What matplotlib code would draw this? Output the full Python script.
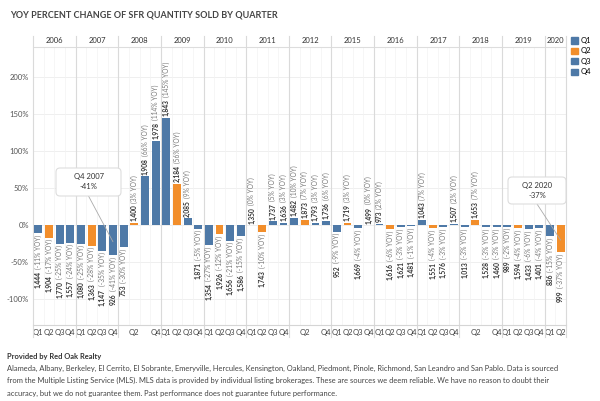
import matplotlib
matplotlib.use('Agg')
import matplotlib.pyplot as plt
from matplotlib.patches import Patch, FancyBboxPatch
from matplotlib.transforms import blended_transform_factory, IdentityTransform

# data
years = ['2006', '2007', '2008', '2009', '2010', '2011', '2012',
         '2015', '2016', '2017', '2018', '2019', '2020']
n_quarters = [4, 4, 4, 4, 4, 4, 4, 4, 4, 4, 4, 4, 2]
quarters = ['Q1', 'Q2', 'Q3', 'Q4'] * 12 + ['Q1', 'Q2']
q_labels = ['Q1', 'Q2', 'Q3', 'Q4', 'Q1', 'Q2', 'Q3', 'Q4', '', 'Q2', '', 'Q4',
            'Q1', 'Q2', 'Q3', 'Q4', 'Q1', 'Q2', 'Q3', 'Q4', 'Q1', 'Q2', 'Q3', 'Q4',
            '', 'Q2', '', 'Q4', 'Q1', 'Q2', 'Q3', 'Q4', 'Q1', 'Q2', 'Q3', 'Q4',
            'Q1', 'Q2', 'Q3', 'Q4', '', 'Q2', '', 'Q4', 'Q1', 'Q2', 'Q3', 'Q4',
            'Q1', 'Q2']
sold = [1444, 1904, 1770, 1557, 1080, 1363, 1147, 926, 753, 1400, 1908, 1978,
        1843, 2184, 2085, 1871, 1354, 1926, 1656, 1586, 1350, 1743, 1737, 1636,
        1482, 1873, 1793, 1736, 952, 1719, 1669, 1499, 973, 1616, 1621, 1481,
        1043, 1551, 1576, 1507, 1013, 1653, 1528, 1460, 989, 1594, 1433, 1401,
        836, 999]
yoy = [-11, -17, -25, -24, -25, -28, -35, -41, -30, 3, 66, 114,
       145, 56, 9, -5, -27, -12, -21, -15, 0, -10, 5, 3,
       10, 7, 3, 6, -9, 3, -4, 0, 2, -6, -3, -1,
       7, -4, -3, 2, -3, 7, -3, -3, -2, -4, -6, -4,
       -15, -37]

blue = '#4e79a7'
orange = '#f28e2b'
colors = {'Q1': blue, 'Q2': orange, 'Q3': blue, 'Q4': blue}

plt.rcParams['font.family'] = ['Lato', 'DejaVu Sans']

W, H = 600, 401
fig = plt.figure(figsize=(6, 4.01), dpi=100)
fig.patch.set_facecolor('white')
ax = fig.add_axes([33 / W, 1 - 325 / H, (566 - 33) / W, (325 - 47) / H])

x = list(range(len(sold)))
ax.bar(x, yoy, width=0.74, color=[colors[q] for q in quarters], zorder=3)
ax.set_xlim(-0.5, len(sold) - 0.5)
ax.set_ylim(-135, 240.5)

# grid
yt = [-100, -50, 0, 50, 100, 150, 200]
ax.set_yticks(yt)
ax.set_yticklabels(['%d%%' % v for v in yt], fontsize=5.5, color='#555555')
for v in yt:
    ax.axhline(v, color='#ececec', lw=0.6, zorder=1)
for i in range(len(sold) + 1):
    ax.axvline(i - 0.5, color='#f3f3f3', lw=0.5, zorder=1)
ax.set_xticks(x)
ax.set_xticklabels(q_labels, fontsize=5.5, color='#444444')
ax.tick_params(length=0, pad=3)
ax.tick_params(axis='y', pad=3)
for s in ['top', 'right', 'left']:
    ax.spines[s].set_visible(False)
ax.spines['bottom'].set_color('#d5d5d5')
ax.spines['bottom'].set_linewidth(0.8)

# year header and dividers
tb = blended_transform_factory(ax.transData, ax.transAxes)
ax.plot([-0.5, len(sold) - 0.5], [1, 1], transform=tb, color='#dddddd',
        lw=0.8, clip_on=False)
start = 0
for yr, n in zip(years, n_quarters):
    ax.text(start + n / 2 - 0.5, 1.025, yr, transform=tb, ha='center',
            va='center', fontsize=5.5, color='#333333')
    ax.plot([start - 0.5, start - 0.5], [-0.043, 1.04], transform=tb,
            color='#dadada', lw=0.8, clip_on=False, zorder=2)
    start += n
ax.plot([start - 0.5, start - 0.5], [-0.043, 1.04], transform=tb,
        color='#dadada', lw=0.8, clip_on=False, zorder=2)

# bar labels
for i in x:
    v = yoy[i]
    num = '{:,}'.format(sold[i])
    pct = '(%d%% YOY)' % v
    if v >= 0:
        t1 = ax.text(i, v + 2, num, rotation=90, ha='center', va='bottom',
                     fontsize=4.8, fontweight='bold', color='#333333', zorder=4)
        ax.annotate(pct, xy=(0.5, 1), xycoords=t1, xytext=(0, 1.5),
                    textcoords='offset points', rotation=90, ha='center',
                    va='bottom', fontsize=4.8, color='#777777', zorder=4)
    else:
        t1 = ax.text(i, v - 2, pct, rotation=90, ha='center', va='top',
                     fontsize=4.8, color='#777777', zorder=4)
        ax.annotate(num, xy=(0.5, 0), xycoords=t1, xytext=(0, -1.5),
                    textcoords='offset points', rotation=90, ha='center',
                    va='top', fontsize=4.8, fontweight='bold', color='#333333',
                    zorder=4)


# callouts (pixel coordinates from the top-left)
def callout(box, text, target_idx):
    x0, y0, x1, y1 = box
    p = FancyBboxPatch((x0, H - y1), x1 - x0, y1 - y0,
                       boxstyle='round,pad=0,rounding_size=4',
                       transform=IdentityTransform(), facecolor='white',
                       edgecolor='#dddddd', lw=0.8, zorder=6)
    fig.patches.append(p)
    fig.text((x0 + x1) / 2 / W, 1 - (y0 + y1) / 2 / H, text, ha='center',
             va='center', fontsize=5.5, color='#333333', zorder=7,
             linespacing=1.5)
    ax.annotate('', xy=(target_idx, yoy[target_idx] * 0.55),
                xytext=((x0 + x1) / 2 / W, 1 - y1 / H),
                textcoords='figure fraction',
                arrowprops=dict(arrowstyle='-', color='#aaaaaa', lw=0.6,
                                shrinkA=0, shrinkB=0), zorder=5)


callout((56, 168, 121, 196), 'Q4 2007\n-41%', 7)
callout((508, 177, 566, 204), 'Q2 2020\n-37%', 49)

# legend
handles = [Patch(facecolor=colors[q], edgecolor=colors[q], label=q)
           for q in ['Q1', 'Q2', 'Q3', 'Q4']]
fig.legend(handles=handles, loc='upper left', bbox_to_anchor=(568 / W, 1 - 34 / H),
           frameon=False, fontsize=5.5, handlelength=0.9, handleheight=0.9,
           handletextpad=0.4, labelspacing=0.45, borderaxespad=0)

# title and footer
fig.text(10 / W, 1 - 15 / H, 'YOY PERCENT CHANGE OF SFR QUANTITY SOLD BY QUARTER',
         fontsize=6.5, fontweight='bold', color='#444444', va='center')
fig.text(7 / W, 1 - 356 / H, 'Provided by Red Oak Realty', fontsize=5.4,
         fontweight='bold', color='#333333', va='center')
footer = [
    'Alameda, Albany, Berkeley, El Cerrito, El Sobrante, Emeryville, Hercules, '
    'Kensington, Oakland, Piedmont, Pinole, Richmond, San Leandro and San Pablo. '
    'Data is sourced',
    'from the Multiple Listing Service (MLS). MLS data is provided by individual '
    'listing brokerages. These are sources we deem reliable. We have no reason to '
    'doubt their',
    'accuracy, but we do not guarantee them. Past performance does not guarantee '
    'future performance.',
]
for k, line in enumerate(footer):
    fig.text(7 / W, 1 - (368 + 12.5 * k) / H, line, fontsize=5.4,
             color='#444444', va='center')

fig.savefig('out.png', dpi=100)
